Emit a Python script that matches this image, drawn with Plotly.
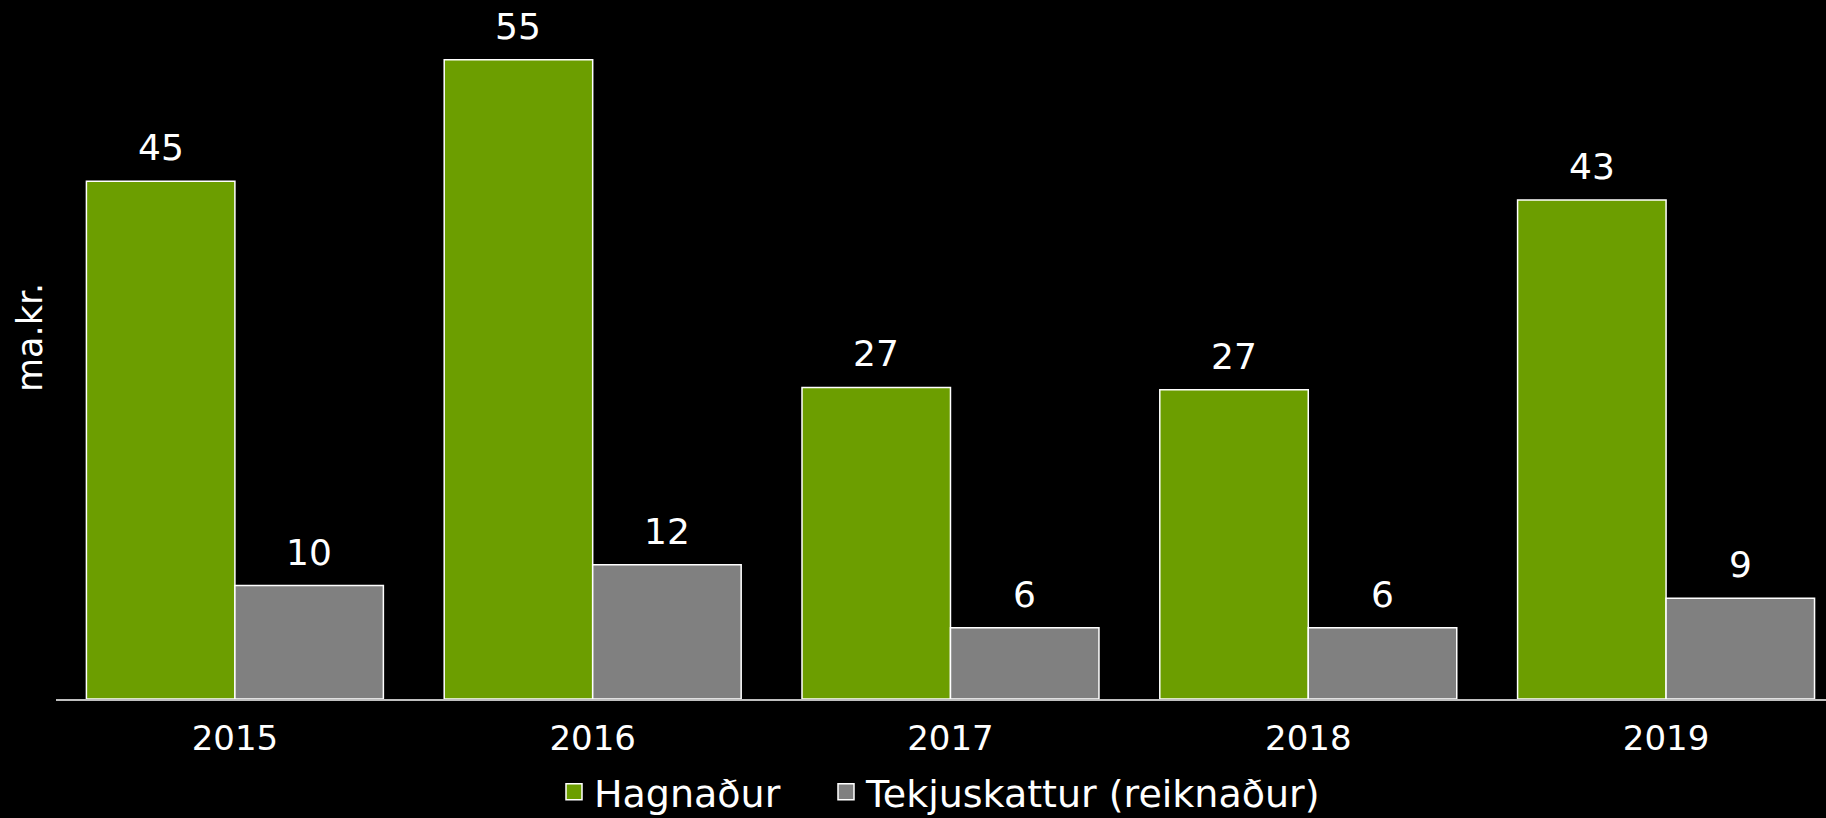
import plotly.graph_objects as go

years = ["2015", "2016", "2017", "2018", "2019"]
hagnadur = [44.7, 55.2, 26.9, 26.7, 43.1]
tekjuskattur = [9.8, 11.6, 6.15, 6.15, 8.7]
series_names = ["Hagnaður", "Tekjuskattur (reiknaður)"]
series_colors = ["#6c9e00", "#808080"]
legend_ids = ["legend", "legend2"]

FONT = "DejaVu Sans"
xpos = list(range(len(years)))
bargap = 0.17
bw = (1 - bargap) / 2

fig = go.Figure()
for name, vals, col in zip(series_names, [hagnadur, tekjuskattur], series_colors):
    fig.add_trace(go.Bar(
        x=xpos, y=vals, name=name, legendgroup=name, showlegend=False,
        marker=dict(color=col, line=dict(color="white", width=1.5)),
    ))
# legend entries with larger square symbols
for name, col, lg in zip(series_names, series_colors, legend_ids):
    fig.add_trace(go.Scatter(
        x=[None], y=[None], mode="markers", name=name, legendgroup=name, legend=lg,
        marker=dict(symbol="square", size=16, color=col, line=dict(color="white", width=1.5)),
    ))

annotations = []
for k, vals in enumerate([hagnadur, tekjuskattur]):
    off = (k - 0.5) * bw
    for i, v in enumerate(vals):
        annotations.append(dict(
            x=i + off, y=v, xref="x", yref="y", text=f"{v:.0f}",
            showarrow=False, yanchor="bottom", yshift=11,
            font=dict(family=FONT, size=36, color="white"),
        ))
annotations.append(dict(
    x=(30 - 56) / 1770, y=(699 - 338) / 699, xref="paper", yref="paper", text="ma.kr.",
    showarrow=False, textangle=-90, xanchor="center", yanchor="middle",
    font=dict(family=FONT, size=35, color="white"),
))

legend_common = dict(orientation="h", xref="container", yref="container",
                     xanchor="left", yanchor="middle", y=1 - 792 / 818,
                     itemsizing="trace", bgcolor="rgba(0,0,0,0)",
                     font=dict(family=FONT, size=38, color="white"))

fig.update_layout(
    width=1826, height=818,
    paper_bgcolor="black", plot_bgcolor="black",
    margin=dict(l=56, r=0, t=0, b=119, autoexpand=False),
    barmode="group", bargap=bargap, bargroupgap=0,
    font=dict(family=FONT, color="white"),
    showlegend=True,
    legend=dict(x=554 / 1826, **legend_common),
    legend2=dict(x=826 / 1826, **legend_common),
    annotations=annotations,
    xaxis=dict(tickvals=xpos, ticktext=years, range=[-0.5, 4.447],
               showgrid=False, zeroline=False, showline=True, linecolor="#bfbfbf", linewidth=2,
               tickfont=dict(family=FONT, size=34, color="white"), ticks="",
               ticklabelstandoff=8, automargin=False),
    yaxis=dict(range=[0, 60.36], showgrid=False, zeroline=False, showticklabels=False,
               showline=False, ticks="", automargin=False),
)

fig.write_html("out.html", config={"displayModeBar": False},
               post_script="document.body.style.margin='0';document.body.style.background='black';")
